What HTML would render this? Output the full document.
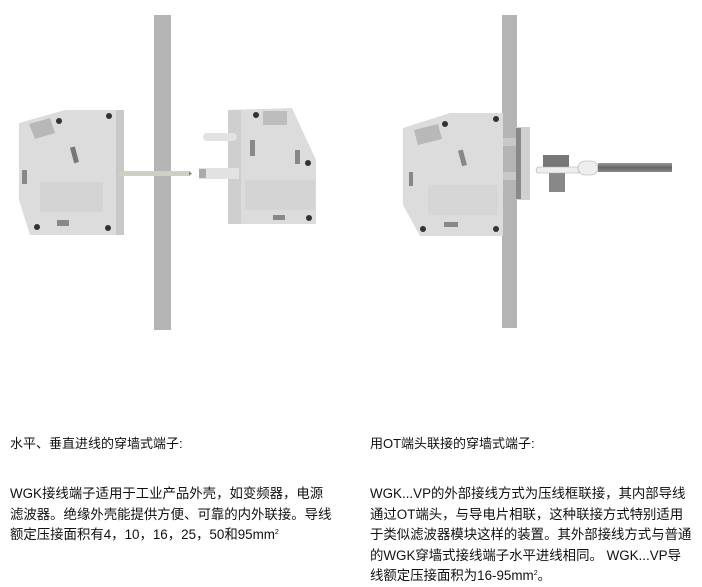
<!DOCTYPE html>
<html><head><meta charset="utf-8"><style>
body{margin:0;width:702px;height:587px;background:#fff;overflow:hidden;position:relative;font-family:"Liberation Sans","Noto Sans CJK SC",sans-serif;color:#111}
.t{position:absolute;font-size:13.4px;line-height:20.5px;white-space:nowrap}
.h{font-size:13px}
sup{font-size:7px;vertical-align:5px;line-height:0}
</style></head><body>
<svg width="702" height="420" style="position:absolute;left:0;top:0">
<defs><linearGradient id="c" x1="0" y1="0" x2="0" y2="1"><stop offset="0" stop-color="#999"/><stop offset=".5" stop-color="#666"/><stop offset="1" stop-color="#888"/></linearGradient></defs>
<rect x="154" y="15" width="17" height="315" fill="#b4b4b4"/>
<polygon points="19,123 65,110 124,110 124,235 30,235 19,200" fill="#dcdcdc"/>
<rect x="116" y="110" width="8" height="125" fill="#c8c8c8"/>
<polygon points="29,124 50,118 55,133 35,139" fill="#b8b8b8"/>
<rect x="72" y="147" width="5" height="16" fill="#777" transform="rotate(-15 74 155)"/>
<rect x="22" y="170" width="5" height="14" fill="#888"/>
<rect x="40" y="182" width="63" height="30" fill="#d4d4d4"/>
<rect x="57" y="220" width="12" height="6" fill="#888"/>
<circle cx="59" cy="121" r="3" fill="#333"/><circle cx="109" cy="116" r="3" fill="#333"/>
<circle cx="37" cy="227" r="3" fill="#333"/><circle cx="108" cy="228" r="3" fill="#333"/>
<rect x="119" y="171" width="70" height="5" fill="#cfcfc4"/>
<polygon points="189,171 192,173.5 189,176" fill="#888"/>
<polygon points="228,110 292,108 316,160 316,224 228,224" fill="#dcdcdc"/>
<rect x="228" y="110" width="13" height="114" fill="#cfcfcf"/>
<rect x="263" y="111" width="24" height="14" fill="#bdbdbd"/>
<rect x="250" y="140" width="5" height="16" fill="#888"/><rect x="295" y="150" width="5" height="14" fill="#888"/>
<rect x="245" y="180" width="70" height="30" fill="#d4d4d4"/>
<rect x="273" y="215" width="12" height="5" fill="#888"/>
<circle cx="256" cy="115" r="3" fill="#333"/><circle cx="308" cy="163" r="3" fill="#333"/><circle cx="309" cy="218" r="3" fill="#333"/>
<rect x="203" y="133" width="34" height="8" rx="4" fill="#e2e2e2"/>
<rect x="199" y="168" width="40" height="11" fill="#e2e2e2"/><rect x="199" y="169" width="7" height="9" fill="#aaa"/>
<rect x="502" y="15" width="15" height="313" fill="#b4b4b4"/>
<polygon points="403,128 450,113 503,113 503,236 420,236 403,205" fill="#dcdcdc"/>
<polygon points="414,130 438,124 442,139 418,145" fill="#b8b8b8"/>
<rect x="460" y="150" width="5" height="16" fill="#888" transform="rotate(-15 462 158)"/>
<rect x="409" y="172" width="4" height="14" fill="#888"/>
<rect x="428" y="185" width="70" height="30" fill="#d6d6d6"/>
<rect x="444" y="222" width="14" height="5" fill="#888"/>
<circle cx="445" cy="124" r="3" fill="#333"/><circle cx="496" cy="119" r="3" fill="#333"/>
<circle cx="423" cy="229" r="3" fill="#333"/><circle cx="496" cy="229" r="3" fill="#333"/>
<rect x="503" y="138" width="25" height="8" fill="#c8c8c8"/><rect x="503" y="172" width="25" height="8" fill="#c8c8c8"/>
<rect x="516" y="127" width="14" height="73" fill="#d0d0d0"/><rect x="516" y="128" width="5" height="71" fill="#888"/>
<rect x="543" y="155" width="26" height="12" fill="#777"/>
<rect x="549" y="172" width="16" height="20" fill="#888"/>
<rect x="536" y="167" width="45" height="6" rx="3" fill="#eee" stroke="#aaa" stroke-width=".6"/>
<rect x="578" y="161" width="20" height="14" rx="7" fill="#eee" stroke="#aaa" stroke-width=".6"/>
<rect x="598" y="163" width="74" height="9" fill="url(#c)"/>
</svg>
<div class="t h" style="left:10px;top:434px">水平、垂直进线的穿墙式端子:</div>
<div class="t h" style="left:370px;top:434px">用OT端头联接的穿墙式端子:</div>
<div class="t" style="left:10px;top:484px">WGK接线端子适用于工业产品外壳，如变频器，电源<br>滤波器。绝缘外壳能提供方便、可靠的内外联接。导线<br>额定压接面积有4，10，16，25，50和95mm<sup>2</sup></div>
<div class="t" style="left:370px;top:484px">WGK...VP的外部接线方式为压线框联接，其内部导线<br>通过OT端头，与导电片相联，这种联接方式特别适用<br>于类似滤波器模块这样的装置。其外部接线方式与普通<br>的WGK穿墙式接线端子水平进线相同。 WGK...VP导<br>线额定压接面积为16-95mm<sup>2</sup>。</div>
</body></html>
